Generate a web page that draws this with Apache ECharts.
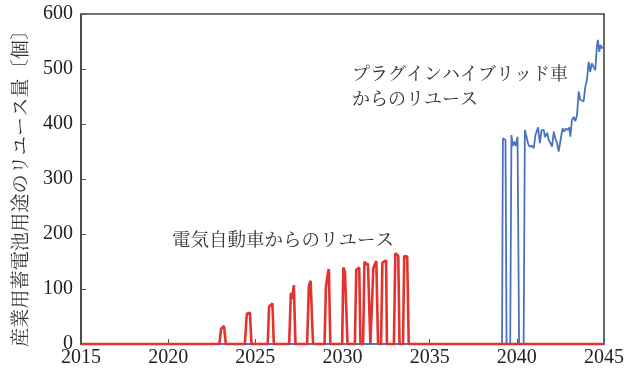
<!DOCTYPE html>
<html>
<head>
<meta charset="utf-8">
<script src="https://cdn.jsdelivr.net/npm/echarts@6/dist/echarts.min.js"></script>
<style>
  html, body { margin: 0; padding: 0; background: #fff; }
  #chart { width: 634px; height: 371px; }
</style>
</head>
<body>
<div id="chart"></div>
<script>
// Reuse of batteries from electric vehicles (red): one burst per retirement wave
const evYear = [
  2015,
  2022.94, 2023.03, 2023.11, 2023.20, 2023.31,
  2024.40, 2024.51, 2024.60, 2024.69, 2024.78,
  2025.71, 2025.79, 2025.88, 2025.98, 2026.06,
  2026.94, 2027.04, 2027.11, 2027.21, 2027.30,
  2027.97, 2028.07, 2028.17, 2028.25, 2028.31,
  2028.97, 2029.05, 2029.17, 2029.22, 2029.30,
  2029.98, 2030.05, 2030.14, 2030.22, 2030.29,
  2030.71, 2030.79, 2030.89, 2030.96, 2031.03,
  2031.18, 2031.26, 2031.34, 2031.46, 2031.53, 2031.60,
  2031.70, 2031.77, 2031.86, 2031.94, 2032.04,
  2032.21, 2032.29, 2032.40, 2032.50, 2032.55,
  2032.95, 2033.03, 2033.13, 2033.20, 2033.27,
  2033.47, 2033.54, 2033.63, 2033.71, 2033.80,
  2045
];
const evReuse = [
  0,
  0, 27, 28, 33, 0,
  0, 55, 58, 57, 0,
  0, 68, 69, 74, 0,
  0, 93, 82, 107, 0,
  0, 105, 115, 117, 0,
  0, 104, 130, 136, 0,
  0, 139, 131, 130, 0,
  0, 135, 137, 139, 0,
  0, 150, 145, 146, 148, 0,
  0, 138, 145, 151, 0,
  0, 148, 147, 152, 0,
  0, 165, 163, 160, 0,
  0, 160, 163, 159, 0,
  0
];

// Reuse of batteries from plug-in hybrid vehicles (blue)
const phvYear = [
  2015,
  2039.15, 2039.20, 2039.29, 2039.35, 2039.41,
  2039.62, 2039.69, 2039.77, 2039.86, 2039.95, 2040.04, 2040.13,
  2040.39, 2040.46, 2040.65, 2040.73, 2040.88, 2040.97,
  2041.07, 2041.22, 2041.32, 2041.42, 2041.55, 2041.61, 2041.74, 2041.83, 2041.93,
  2042.02, 2042.12, 2042.21, 2042.31, 2042.40, 2042.49, 2042.62, 2042.72, 2042.81, 2042.93,
  2043.01, 2043.07, 2043.16, 2043.26, 2043.35, 2043.45, 2043.55, 2043.64, 2043.73, 2043.83, 2043.93,
  2044.02, 2044.12, 2044.21, 2044.30, 2044.40, 2044.50, 2044.59, 2044.65, 2044.73, 2044.80, 2044.88, 2045.00
];
const phvReuse = [
  0,
  0, 374, 371, 371, 0,
  0, 380, 360, 368, 360, 377, 0,
  0, 389, 364, 359, 360, 356,
  380, 394, 365, 389, 389, 376, 384, 371, 365,
  359, 386, 373, 365, 350, 347, 392, 386, 392, 389,
  394, 377, 407, 413, 405, 416, 459, 444, 447, 441, 468,
  480, 513, 495, 510, 513, 498, 541, 553, 531, 544, 538, 540
];

const xTicks = [2015, 2045, 5];
const yTicks = [0, 600, 100];

const axisTitle = '産業用蓄電池用途のリユース量〔個〕';
const evLabel = '電気自動車からのリユース';
const phvLabel = ['プラグインハイブリッド車', 'からのリユース'];

const pairs = (xs, ys) => xs.map((x, i) => [x, ys[i]]);

const serif = '"Liberation Serif", serif';
const mincho = '"Noto Serif CJK JP", serif';
const frame = '#454545';

// tick numbers are drawn through a rich-text style so the serif face is applied
const numRich = { n: { fontFamily: serif, fontSize: 20, color: '#222' } };
const numLabel = v => '{n|' + v + '}';

const chart = echarts.init(document.getElementById('chart'), null, { renderer: 'canvas' });
chart.setOption({
  animation: false,
  backgroundColor: '#ffffff',
  textStyle: { fontFamily: serif },
  grid: {
    left: 81, right: 30, top: 14, bottom: 27,
    show: true, borderColor: frame, borderWidth: 1.6, backgroundColor: 'transparent'
  },
  xAxis: {
    type: 'value',
    min: xTicks[0], max: xTicks[1], interval: xTicks[2],
    axisLine: { show: true, lineStyle: { color: frame, width: 1.6 } },
    axisTick: { show: true, inside: true, length: 5, lineStyle: { color: '#555', width: 1 } },
    axisLabel: { margin: 4, formatter: numLabel, rich: numRich },
    splitLine: { show: false }
  },
  yAxis: {
    type: 'value',
    min: yTicks[0], max: yTicks[1], interval: yTicks[2],
    name: axisTitle,
    nameLocation: 'middle',
    nameGap: 52,
    nameRotate: 90,
    nameTextStyle: { color: '#333', fontFamily: mincho, fontSize: 19.2, padding: [0, 10, 0, 0] },
    axisLine: { show: true, lineStyle: { color: frame, width: 1.6 } },
    axisTick: { show: true, inside: true, length: 5, lineStyle: { color: '#555', width: 1 } },
    axisLabel: { margin: 8, formatter: numLabel, rich: numRich },
    splitLine: { show: false }
  },
  series: [
    {
      name: 'PHV',
      type: 'line',
      data: pairs(phvYear, phvReuse),
      showSymbol: false,
      clip: false,
      lineStyle: { color: '#4a72c0', width: 1.8 },
      z: 2
    },
    {
      name: 'EV',
      type: 'line',
      data: pairs(evYear, evReuse),
      showSymbol: false,
      clip: false,
      lineStyle: { color: '#e4322e', width: 2.6 },
      z: 3
    }
  ],
  graphic: [
    {
      type: 'text', left: 352, top: 61,
      style: { text: phvLabel.join('\n'), fill: '#333', font: '18px "Noto Serif CJK JP"', lineHeight: 25 }
    },
    {
      type: 'text', left: 172, top: 230,
      style: { text: evLabel, fill: '#333', font: '18.5px "Noto Serif CJK JP"' }
    }
  ]
});
</script>
</body>
</html>
